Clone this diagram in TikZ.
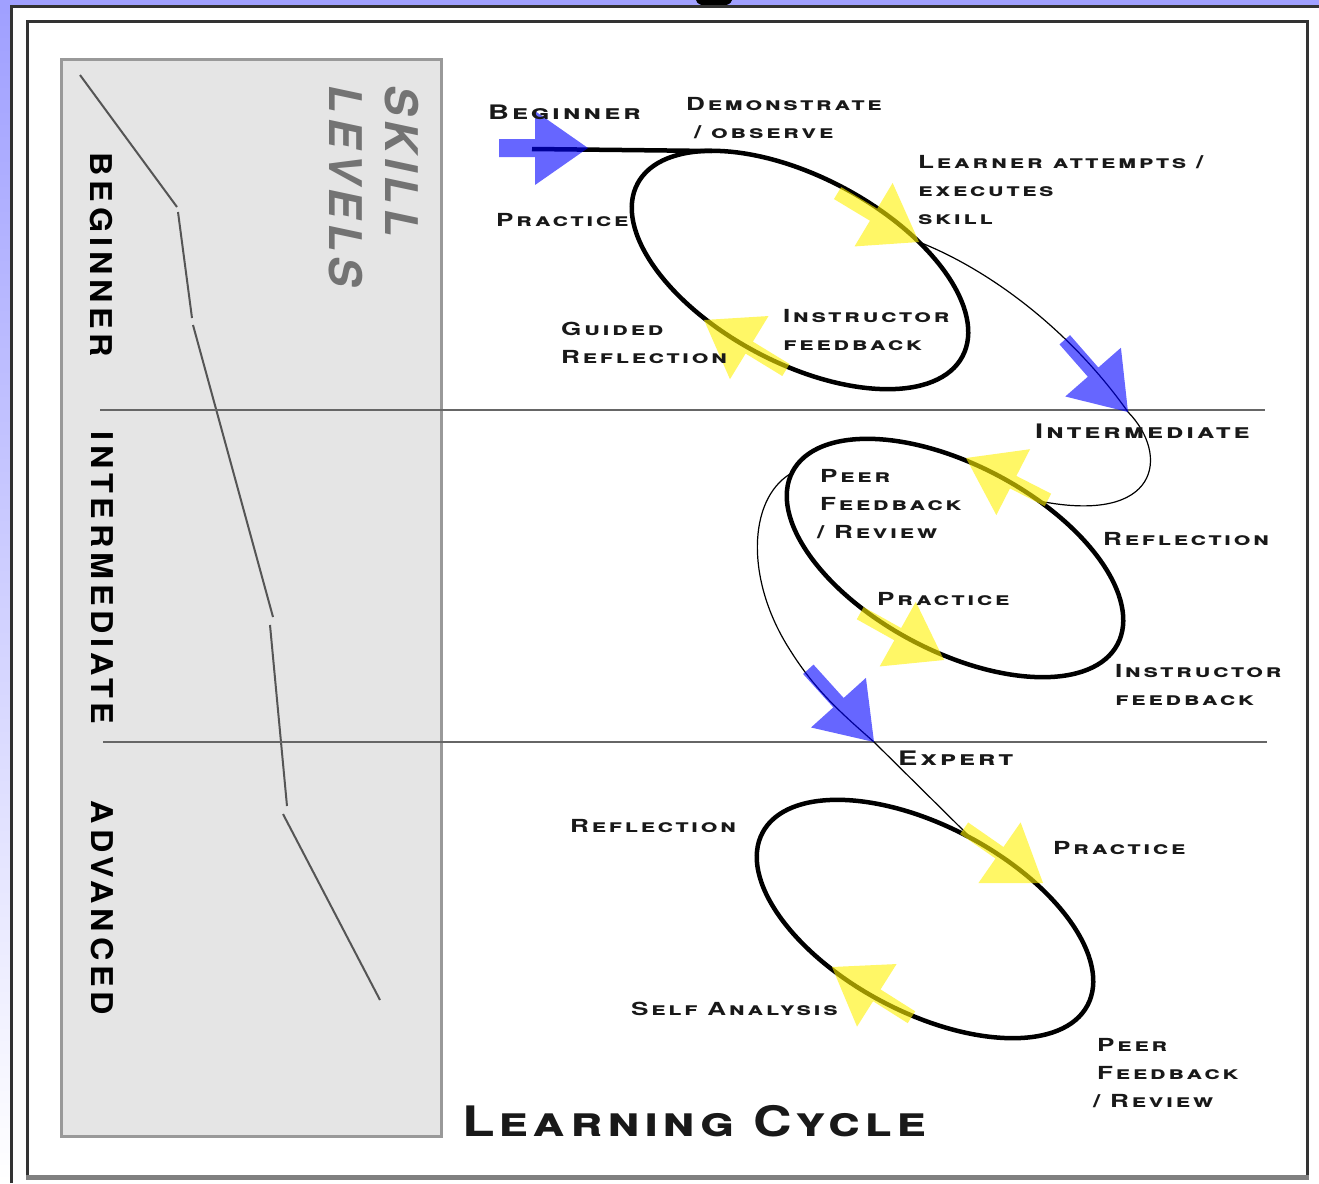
\documentclass[tikz,border=0pt]{standalone}
\usepackage{fontspec}
\setmainfont{TeX Gyre Heros}
\newfontfamily\stagefont{TeX Gyre Heros}[FakeStretch=1.45,LetterSpace=14]
\newfontfamily\titlefont{TeX Gyre Heros}[FakeStretch=1.27,LetterSpace=10]
\newfontfamily\levelfont{TeX Gyre Heros}[LetterSpace=12]
\newfontfamily\sidefont{TeX Gyre Heros}[FakeStretch=1.08,LetterSpace=16]
\usepackage{tikz}
\usetikzlibrary{positioning,calc}
\definecolor{slidebg}{RGB}{160,160,255}
\definecolor{framegray}{RGB}{51,51,51}
\definecolor{panelgray}{RGB}{229,229,229}
\definecolor{paneledge}{RGB}{153,153,153}
\definecolor{stepline}{RGB}{85,85,85}

% fat see-through arrow: colour, tip, direction, tail length, half shaft
\newcommand{\fatarrow}[5]{%
  \fill[#1, fill opacity=0.6, shift={(#2)}, rotate=#3]
    (0,0) -- (-53,37) -- (-53,#5) -- (-#4,#5) -- (-#4,-#5) -- (-53,-#5) -- (-53,-37) -- cycle;}

\tikzset{
  stage/.style={font=\stagefont\bfseries\scshape\fontsize{18}{28}\selectfont, inner sep=0pt, align=left, text=black!90},
  bigstage/.style={stage, font=\stagefont\bfseries\scshape\fontsize{20}{28}\selectfont},
  levellbl/.style={font=\sidefont\bfseries\fontsize{30}{36}\selectfont, rotate=-90, inner sep=0pt},
  loopline/.style={line width=4.5pt},
  link/.style={line width=1.2pt}
}

\begin{document}
\begin{tikzpicture}[x=1pt,y=1pt]
  \useasboundingbox (0,0) rectangle (1319,-1183);

  % slide background and frames
  \fill[slidebg] (0,0) rectangle (1319,-1183);
  \shade[top color=slidebg, bottom color=white] (0,-7) rectangle (11,-1183);
  \fill[white] (11,-7) rectangle (1319,-1183);
  \fill (696,0) arc[start angle=180, end angle=360, x radius=18, y radius=7];
  \draw[framegray, line width=3pt] (11.5,-1183) -- (11.5,-6.5) -- (1319,-6.5);
  \draw[framegray, line width=3pt] (27.5,-1175) -- (27.5,-21) -- (1307.5,-21) -- (1307.5,-1175);
  \draw[gray, line width=5pt] (26,-1177) -- (1309,-1177);

  % skill level panel
  \draw[paneledge, fill=panelgray, line width=3pt] (61,-59) rectangle (441,-1136);
  \draw[stepline, line width=2pt] (80,-75) -- (177,-207);
  \draw[stepline, line width=2pt] (178,-212) -- (192,-318);
  \draw[stepline, line width=2pt] (193,-325) -- (273,-617);
  \draw[stepline, line width=2pt] (270,-625) -- (287,-806);
  \draw[stepline, line width=2pt] (283,-814) -- (380,-1000);
  \draw[black!60, line width=2pt] (100,-410) -- (1265,-410);
  \draw[black!60, line width=2pt] (103,-742) -- (1267,-742);

  \node[levellbl] (lvBeg) at (101,-255) {BEGINNER};
  \node[levellbl] (lvInt) at (102,-578) {INTERMEDIATE};
  \node[levellbl] (lvAdv) at (102,-908) {ADVANCED};
  \node[rotate=-90, anchor=north west, inner sep=0pt, align=left, text=black!55,
        font=\levelfont\bfseries\itshape\fontsize{45}{56}\selectfont] (skill) at (419,-85) {SKILL\\LEVELS};

  % the three cycles
  \coordinate (c1) at (800,-270);
  \coordinate (c2) at (955,-558);
  \coordinate (c3) at (925,-919);
  \draw[loopline, rotate around={-28:(c1)}] (c1) ellipse [x radius=184, y radius=93];
  \draw[loopline, rotate around={-28:(c2)}] (c2) ellipse [x radius=184, y radius=93];
  \draw[loopline, rotate around={-28:(c3)}] (c3) ellipse [x radius=184, y radius=93];

  % way in and the steps between levels
  \coordinate (start) at (532,-149);
  \coordinate (c1top) at (712,-151);
  \coordinate (c1out) at (919,-242);
  \coordinate (toInt) at (1128,-412);
  \coordinate (c2in) at (1039,-501);
  \coordinate (c2out) at (790,-474);
  \coordinate (toExp) at (874,-742);
  \coordinate (c3in) at (968,-835);
  \draw[loopline] (start) -- (c1top);
  \draw[link] (c1out) .. controls (990,-270) and (1070,-330) .. (toInt)
    .. controls (1170,-455) and (1160,-525) .. (c2in);
  \draw[link] (c2out) .. controls (748,-500) and (745,-580) .. (790,-650)
    .. controls (815,-690) and (840,-712) .. (toExp) -- (c3in);

  % level arrows
  \fatarrow{blue}{588,-148}{0}{89}{9}
  \fatarrow{blue}{toInt}{-48.8}{96}{7}
  \fatarrow{blue}{toExp}{-47.9}{98}{7}
  % cycle arrows
  \fatarrow{yellow}{c1out}{-31}{95}{7}
  \fatarrow{yellow}{704,-320}{148.6}{96}{7}
  \fatarrow{yellow}{966,-458}{152.9}{92}{7}
  \fatarrow{yellow}{944,-660}{-29.2}{96}{7}
  \fatarrow{yellow}{1043,-883}{-34.8}{96}{7}
  \fatarrow{yellow}{832,-967}{147.7}{94}{7}

  % labels
  \node[bigstage, anchor=west] (begLbl) at (488,-112) {Beginner};
  \node[stage, anchor=north west] (demo) at (686,-97) {Demonstrate\\\hspace*{8pt}/ observe};
  \node[stage, anchor=north west] (attempt) at (918,-155) {Learner attempts /\\executes\\skill};
  \node[stage, anchor=west] (prac1) at (496,-220) {Practice};
  \node[stage, anchor=north west] (guided) at (561,-322) {Guided\\Reflection};
  \node[stage, anchor=north west] (instr1) at (783,-309) {Instructor\\feedback};

  \node[bigstage, anchor=west] (intLbl) at (1035,-431) {Intermediate};
  \node[stage, anchor=north west] (peer2) at (817,-469) {\hspace*{3pt}Peer\\\hspace*{3pt}Feedback\\/ Review};
  \node[stage, anchor=west] (refl2) at (1103,-539) {Reflection};
  \node[stage, anchor=west] (prac2) at (877,-599) {Practice};
  \node[stage, anchor=north west] (instr2) at (1115,-664) {Instructor\\feedback};

  \node[bigstage, anchor=west] (expLbl) at (898,-758) {Expert};
  \node[stage, anchor=west] (refl3) at (570,-826) {Reflection};
  \node[stage, anchor=west] (prac3) at (1053,-848) {Practice};
  \node[stage, anchor=west] (selfAn) at (631,-1009) {Self Analysis};
  \node[stage, anchor=north west] (peer3) at (1093,-1038) {\hspace*{4pt}Peer\\\hspace*{4pt}Feedback\\/ Review};

  \node[stage, anchor=west, font=\titlefont\bfseries\scshape\fontsize{42}{50}\selectfont] (cycleTitle) at (462,-1121) {Learning Cycle};
\end{tikzpicture}
\end{document}
